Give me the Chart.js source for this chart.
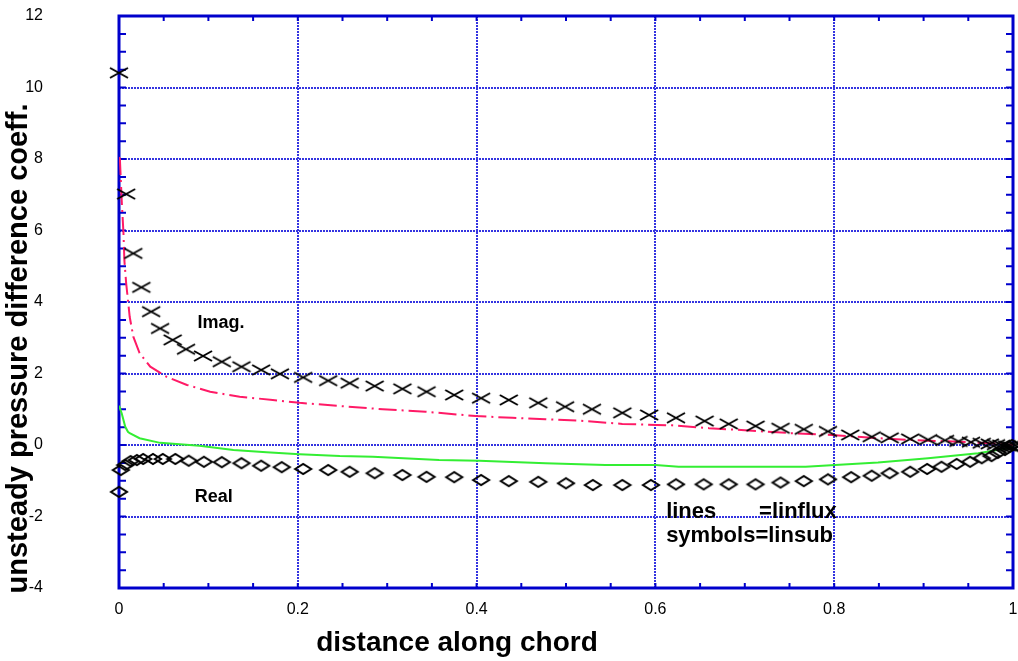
<!DOCTYPE html>
<html>
<head>
<meta charset="utf-8">
<script src="https://cdn.jsdelivr.net/npm/chart.js"></script>
<style>
  body { margin: 0; background: #fff; }
  canvas { display: block; }
</style>
</head>
<body>
<canvas id="myChart" width="1018" height="661"></canvas>
<script>
// linflux curves (lines)
var imagLineX = [0, 0.001, 0.003, 0.005, 0.006, 0.008, 0.012, 0.016, 0.023, 0.035, 0.053, 0.076, 0.102, 0.135,
  0.172, 0.202, 0.247, 0.295, 0.343, 0.399, 0.440, 0.477, 0.515, 0.563, 0.619, 0.660, 0.696, 0.752, 0.797,
  0.842, 0.886, 0.939, 0.975, 1.0];
var imagLineY = [8.05, 8.0, 6.85, 5.93, 5.17, 4.53, 3.58, 3.03, 2.57, 2.19, 1.91, 1.68, 1.49, 1.35,
  1.26, 1.18, 1.09, 1.00, 0.93, 0.81, 0.76, 0.72, 0.68, 0.59, 0.55, 0.47, 0.42, 0.33, 0.28,
  0.20, 0.14, 0.09, 0.05, 0.0];
var realLineX = [0, 0.003, 0.007, 0.010, 0.012, 0.023, 0.046, 0.064, 0.090, 0.128, 0.165, 0.202, 0.247, 0.284,
  0.358, 0.403, 0.477, 0.544, 0.600, 0.626, 0.678, 0.768, 0.801, 0.849, 0.905, 0.961, 0.994, 1.0];
var realLineY = [1.1, 0.89, 0.51, 0.37, 0.33, 0.19, 0.06, 0.03, -0.02, -0.14, -0.20, -0.26, -0.31, -0.33,
  -0.42, -0.44, -0.51, -0.56, -0.56, -0.61, -0.61, -0.61, -0.56, -0.49, -0.37, -0.23, -0.09, -0.02];

// linsub results (symbols)
var imagSymX = [0, 0.008, 0.016, 0.025, 0.036, 0.046, 0.060, 0.075, 0.094, 0.115, 0.137, 0.159, 0.180, 0.206,
  0.234, 0.258, 0.286, 0.317, 0.344, 0.375, 0.405, 0.436, 0.469, 0.499, 0.529, 0.563, 0.593, 0.623, 0.655,
  0.682, 0.712, 0.740, 0.766, 0.793, 0.818, 0.842, 0.862, 0.885, 0.905, 0.924, 0.939, 0.953, 0.965, 0.974,
  0.981, 0.987, 0.993, 0.996, 0.999];
var imagSymY = [10.41, 7.02, 5.36, 4.41, 3.73, 3.26, 2.94, 2.68, 2.49, 2.33, 2.19, 2.10, 1.99, 1.89,
  1.80, 1.73, 1.65, 1.57, 1.49, 1.40, 1.31, 1.26, 1.18, 1.07, 1.00, 0.90, 0.84, 0.76, 0.67,
  0.59, 0.53, 0.47, 0.44, 0.38, 0.28, 0.23, 0.20, 0.17, 0.15, 0.13, 0.10, 0.08, 0.05, 0.03,
  0.01, 0.0, -0.02, -0.04, -0.06];
var realSymX = [0, 0.002, 0.007, 0.013, 0.020, 0.027, 0.038, 0.049, 0.063, 0.078, 0.095, 0.115, 0.137, 0.159,
  0.182, 0.206, 0.234, 0.258, 0.286, 0.317, 0.344, 0.375, 0.405, 0.436, 0.469, 0.500, 0.530, 0.563, 0.595,
  0.623, 0.654, 0.682, 0.712, 0.740, 0.766, 0.793, 0.819, 0.842, 0.862, 0.885, 0.904, 0.920, 0.937, 0.952,
  0.965, 0.976, 0.983, 0.991, 0.996, 0.999];
var realSymY = [-1.31, -0.70, -0.56, -0.45, -0.42, -0.39, -0.39, -0.39, -0.39, -0.44, -0.47, -0.48, -0.51, -0.58,
  -0.62, -0.67, -0.70, -0.75, -0.79, -0.84, -0.89, -0.90, -0.98, -1.01, -1.03, -1.07, -1.12, -1.12, -1.12,
  -1.10, -1.10, -1.10, -1.10, -1.05, -1.01, -0.96, -0.90, -0.86, -0.79, -0.75, -0.67, -0.61, -0.53, -0.47,
  -0.37, -0.31, -0.22, -0.14, -0.05, 0.0];

var xTickLabels = ["0", "0.2", "0.4", "0.6", "0.8", "1"];
var yTickLabels = ["-4", "-2", "0", "2", "4", "6", "8", "10", "12"];

var FONT = '"Liberation Sans", Arial, Helvetica, sans-serif';

function pts(xs, ys) {
    return xs.map(function (x, i) { return { x: x, y: ys[i] }; });
}

// flat X and diamond glyphs, wider than tall
function marker(kind) {
    var c = document.createElement('canvas');
    c.width = 22; c.height = 14;
    var g = c.getContext('2d');
    g.strokeStyle = '#000';
    g.lineWidth = 2;
    g.beginPath();
    if (kind == 'x') {
        g.moveTo(2, 2); g.lineTo(20, 12);
        g.moveTo(2, 12); g.lineTo(20, 2);
    } else {
        g.moveTo(3, 7); g.lineTo(11, 2); g.lineTo(19, 7); g.lineTo(11, 12); g.closePath();
    }
    g.stroke();
    return c;
}

// blue frame with inward major/minor ticks on all four sides
var frame = {
    id: 'frame',
    beforeDatasetsDraw: function (chart) {
        var ctx = chart.ctx, a = chart.chartArea, xs = chart.scales.x, ys = chart.scales.y;
        ctx.save();
        ctx.strokeStyle = '#0000cc';
        ctx.lineWidth = 2;
        ctx.beginPath();
        for (var i = 0; i <= 20; i++) {
            var px = xs.getPixelForValue(i * 0.05);
            ctx.moveTo(px, a.top); ctx.lineTo(px, a.top + 5);
            ctx.moveTo(px, a.bottom); ctx.lineTo(px, a.bottom - 5);
        }
        for (var j = 0; j <= 32; j++) {
            var py = ys.getPixelForValue(-4 + j * 0.5);
            ctx.moveTo(a.left, py); ctx.lineTo(a.left + 7, py);
            ctx.moveTo(a.right, py); ctx.lineTo(a.right - 7, py);
        }
        ctx.stroke();
        ctx.lineWidth = 3;
        ctx.strokeRect(a.left, a.top, a.right - a.left, a.bottom - a.top);
        ctx.restore();
    }
};

// axis titles and in-plot notes
var notes = {
    id: 'notes',
    afterDraw: function (chart) {
        var ctx = chart.ctx, xs = chart.scales.x, ys = chart.scales.y;
        ctx.save();
        ctx.fillStyle = '#000';
        ctx.textBaseline = 'middle';

        ctx.font = 'bold 28px ' + FONT;
        ctx.textAlign = 'center';
        ctx.fillText('distance along chord', xs.getPixelForValue(0.378), 643);
        ctx.font = 'bold 29px ' + FONT;
        ctx.translate(19, ys.getPixelForValue(2.7));
        ctx.rotate(-Math.PI / 2);
        ctx.fillText('unsteady pressure difference coeff.', 0, 0);
        ctx.setTransform(1, 0, 0, 1, 0, 0);

        ctx.font = 'bold 18px ' + FONT;
        ctx.fillText('Imag.', xs.getPixelForValue(0.114), ys.getPixelForValue(3.4));
        ctx.fillText('Real', xs.getPixelForValue(0.106), ys.getPixelForValue(-1.45));

        ctx.font = 'bold 22px ' + FONT;
        ctx.textAlign = 'left';
        ctx.fillText('lines', xs.getPixelForValue(0.612), ys.getPixelForValue(-1.88));
        ctx.fillText('=linflux', xs.getPixelForValue(0.716), ys.getPixelForValue(-1.88));
        ctx.fillText('symbols=linsub', xs.getPixelForValue(0.612), ys.getPixelForValue(-2.53));
        ctx.restore();
    }
};

var ctx = document.getElementById("myChart");
var myChart = new Chart(ctx, {
    type: 'scatter',
    data: {
        datasets: [{
            label: "Imag. linflux",
            type: "line",
            data: pts(imagLineX, imagLineY),
            borderColor: "#ff1a66",
            borderWidth: 2,
            borderDash: [18, 5, 2, 5],
            pointRadius: 0,
            fill: false,
            order: 2
        }, {
            label: "Real linflux",
            type: "line",
            data: pts(realLineX, realLineY),
            borderColor: "#33ee33",
            borderWidth: 2,
            pointRadius: 0,
            fill: false,
            order: 2
        }, {
            label: "Imag. linsub",
            data: pts(imagSymX, imagSymY),
            pointStyle: marker('x'),
            clip: false,
            order: 1
        }, {
            label: "Real linsub",
            data: pts(realSymX, realSymY),
            pointStyle: marker('d'),
            clip: false,
            order: 1
        }]
    },
    options: {
        responsive: false,
        animation: false,
        layout: { padding: { left: 0, top: 16, right: 3, bottom: 0 } },
        plugins: {
            legend: { display: false },
            tooltip: { enabled: false }
        },
        scales: {
            x: {
                type: 'linear',
                min: 0, max: 1,
                afterFit: function (s) {
                    s.height = 73;
                    s.paddingLeft = 0; s.paddingRight = 0;
                },
                ticks: {
                    stepSize: 0.2,
                    padding: 12,
                    color: '#000',
                    font: { family: FONT, size: 16 },
                    maxRotation: 0,
                    callback: function (v, i) { return xTickLabels[i]; }
                },
                grid: { color: '#3434e0', lineWidth: 2, drawTicks: false },
                border: { display: false, dash: [2, 1] }
            },
            y: {
                type: 'linear',
                min: -4, max: 12,
                afterFit: function (s) {
                    s.width = 119;
                    s.paddingTop = 0; s.paddingBottom = 0;
                },
                ticks: {
                    stepSize: 2,
                    padding: 76,
                    color: '#000',
                    font: { family: FONT, size: 16 },
                    callback: function (v, i) { return yTickLabels[i]; }
                },
                grid: { color: '#3434e0', lineWidth: 2, drawTicks: false },
                border: { display: false, dash: [2, 1] }
            }
        }
    },
    plugins: [frame, notes]
});
</script>
</body>
</html>
